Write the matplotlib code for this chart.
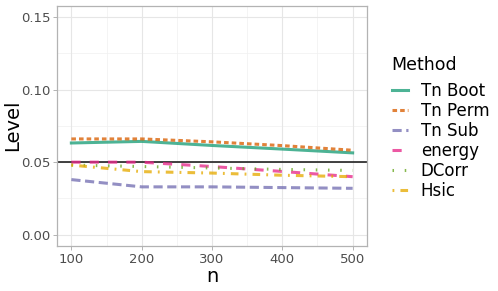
import matplotlib
matplotlib.use("Agg")
import matplotlib.pyplot as plt
from matplotlib.lines import Line2D

n = [100, 200, 300, 400, 500]
methods = ["Tn Boot", "Tn Perm", "Tn Sub", "energy", "DCorr", "Hsic"]
tn_boot = [0.0632, 0.0643, 0.0615, 0.0590, 0.0564]
tn_perm = [0.0660, 0.0660, 0.0640, 0.0614, 0.0582]
tn_sub = [0.0380, 0.0330, 0.0330, 0.0325, 0.0320]
energy = [0.0500, 0.0500, 0.0470, 0.0436, 0.0400]
dcorr = [0.0480, 0.0470, 0.0460, 0.0450, 0.0443]
hsic = [0.0480, 0.0435, 0.0425, 0.0410, 0.0400]
series = [tn_boot, tn_perm, tn_sub, energy, dcorr, hsic]
colors = ["#1B9E77", "#D95F02", "#7570B3", "#E7298A", "#66A61E", "#E6AB02"]
styles = ["-", (0, (1.5, 1)), (0, (3, 1.5)), (0, (3, 3)), (0, (0.5, 3.5)), (0, (0.6, 2, 2.5, 2))]
yticks = [0.00, 0.05, 0.10, 0.15]
xticks = [100, 200, 300, 400, 500]

fig = plt.figure(figsize=(4.98, 2.91), dpi=100)
ax = fig.add_axes([57.3/498, 1-245.7/291, (366.7-57.3)/498, (245.7-6)/291])
ax.set_xlim(80, 520)
ax.set_ylim(-0.0075, 0.1575)
for x in [150, 250, 350, 450]:
    ax.axvline(x, color="#f0f0f0", lw=0.5, zorder=0)
for y in [0.025, 0.075, 0.125]:
    ax.axhline(y, color="#f0f0f0", lw=0.5, zorder=0)
for x in xticks:
    ax.axvline(x, color="#e6e6e6", lw=0.8, zorder=0)
for y in yticks:
    ax.axhline(y, color="#e6e6e6", lw=0.8, zorder=0)

ax.axhline(0.05, color="#222222", lw=1.2, zorder=1)
handles = []
for vals, c, ls, m in zip(series, colors, styles, methods):
    ax.plot(n, vals, color=c, ls=ls, lw=2.2, alpha=0.78, zorder=2)
    handles.append(Line2D([], [], color=c, ls=ls, lw=2.2, alpha=0.78, label=m))

ax.set_xticks(xticks)
ax.set_yticks(yticks)
ax.set_yticklabels([f"{v:.2f}" for v in yticks])
ax.tick_params(colors="#b3b3b3", labelcolor="#4d4d4d", labelsize=9.5, length=3, width=0.7, pad=2)
for s in ax.spines.values():
    s.set_color("#b3b3b3")
    s.set_linewidth(0.9)
ax.set_xlabel("n", fontsize=14, labelpad=1)
fig.text(13/498, 1-125/291, "Level", fontsize=14, rotation=90, ha="center", va="center")

leg = fig.legend(handles=handles, loc="upper left", bbox_to_anchor=(385/498, 1-49/291),
                 frameon=False, fontsize=12, title="Method", title_fontsize=12.5,
                 handlelength=1.0, labelspacing=0.12, handletextpad=0.75, borderaxespad=0)
leg._legend_box.align = "left"
leg._legend_box.sep = 6
fig.savefig("out.png", dpi=100)
